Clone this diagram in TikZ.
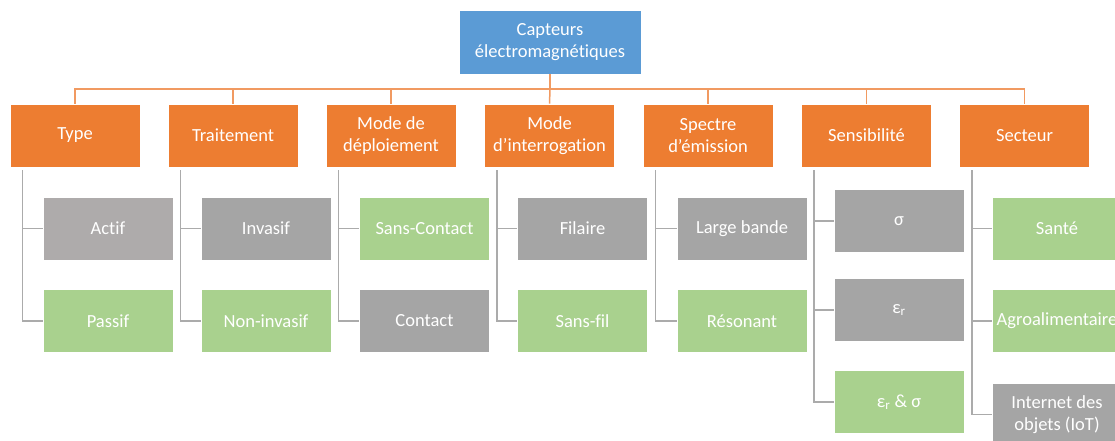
\documentclass[tikz,border=0pt]{standalone}
\usepackage{fontspec}
\setmainfont[Ligatures=NoCommon]{Carlito}
\usetikzlibrary{calc}
\definecolor{rootblue}{HTML}{5B9BD5}
\definecolor{catorange}{HTML}{ED7D31}
\definecolor{leafgray}{HTML}{A5A5A5}
\definecolor{lightgray}{HTML}{AEABAB}
\definecolor{leafgreen}{HTML}{A9D18E}
\definecolor{lineorange}{HTML}{F19A61}
\definecolor{linegray}{HTML}{ABABAB}
\newcommand{\stubshift}{13pt}
\tikzset{
	box/.style={minimum width=130pt, minimum height=63pt, inner sep=0pt,
		text=white, align=center, font=\fontsize{18.5}{21.5}\selectfont,
		draw=white, line width=0.6pt},
	catbox/.style={box, fill=catorange},
	graybox/.style={box, fill=leafgray},
	greenbox/.style={box, fill=leafgreen},
	busline/.style={draw=lineorange, line width=1.5pt},
	leafline/.style={draw=linegray, line width=1.5pt},
}

\begin{document}
\begin{tikzpicture}[x=1pt,y=-1pt]
	\useasboundingbox (0,0) rectangle (1115,441);
	\clip (0,0) rectangle (1115,441);

	% root and categories
	\node[box, fill=rootblue, minimum width=182pt, minimum height=64pt] (root) at (550,42) {Capteurs\\électromagnétiques};
	\coordinate (bus) at (550,89);
	\node[catbox] (type) at (75,135.5) {Type};
	\node[catbox] (traitement) at (233,135.5) {Traitement};
	\node[catbox] (deploiement) at (391,135.5) {Mode de\\déploiement};
	\node[catbox] (interrogation) at (549.5,135.5) {Mode\\d’interrogation};
	\node[catbox] (spectre) at (708,135.5) {Spectre\\d’émission};
	\node[catbox] (sensibilite) at (866.5,135.5) {Sensibilité};
	\node[catbox] (secteur) at (1024.5,135.5) {Secteur};

	% leaves
	\node[box, fill=lightgray] (actif) at (108,228.5) {Actif};
	\node[greenbox] (passif) at (108,321) {Passif};
	\node[graybox] (invasif) at (266,228.5) {Invasif};
	\node[greenbox] (noninvasif) at (266,321) {Non-invasif};
	\node[greenbox] (sanscontact) at (424.5,228.5) {Sans-Contact};
	\node[graybox] (contact) at (424.5,321) {Contact};
	\node[graybox] (filaire) at (582.5,228.5) {Filaire};
	\node[greenbox] (sansfil) at (582.5,321) {Sans-fil};
	\node[graybox] (largebande) at (742,228.5) {Large bande};
	\node[greenbox] (resonant) at (742,321) {Résonant};
	\node[graybox] (sigma) at (899,221) {σ};
	\node[graybox] (epsr) at (899,310) {ε\textsubscript{r}};
	\node[greenbox] (epssigma) at (899,402) {ε\textsubscript{r} \& σ};
	\node[greenbox] (sante) at (1057,228.5) {Santé};
	\node[greenbox] (agro) at (1057,321) {Agroalimentaire};
	\node[graybox] (iot) at (1057,414.5) {Internet des\\objets (IoT)};

	\draw[busline] (root.south) -- (bus);
	\draw[busline] (bus) -| (type.north);
	\draw[busline] (bus) -| (traitement.north);
	\draw[busline] (bus) -| (deploiement.north);
	\draw[busline] (bus) -- (interrogation.north);
	\draw[busline] (bus) -| (spectre.north);
	\draw[busline] (bus) -| (sensibilite.north);
	\draw[busline] (bus) -| (secteur.north);

	\draw[leafline] ([xshift=\stubshift,yshift=-3pt]type.south west) |- (actif.west);
	\draw[leafline] ([xshift=\stubshift,yshift=-3pt]type.south west) |- (passif.west);
	\draw[leafline] ([xshift=\stubshift,yshift=-3pt]traitement.south west) |- (invasif.west);
	\draw[leafline] ([xshift=\stubshift,yshift=-3pt]traitement.south west) |- (noninvasif.west);
	\draw[leafline] ([xshift=\stubshift,yshift=-3pt]deploiement.south west) |- (sanscontact.west);
	\draw[leafline] ([xshift=\stubshift,yshift=-3pt]deploiement.south west) |- (contact.west);
	\draw[leafline] ([xshift=\stubshift,yshift=-3pt]interrogation.south west) |- (filaire.west);
	\draw[leafline] ([xshift=\stubshift,yshift=-3pt]interrogation.south west) |- (sansfil.west);
	\draw[leafline] ([xshift=\stubshift,yshift=-3pt]spectre.south west) |- (largebande.west);
	\draw[leafline] ([xshift=\stubshift,yshift=-3pt]spectre.south west) |- (resonant.west);
	\draw[leafline] ([xshift=\stubshift,yshift=-3pt]sensibilite.south west) |- (sigma.west);
	\draw[leafline] ([xshift=\stubshift,yshift=-3pt]sensibilite.south west) |- (epsr.west);
	\draw[leafline] ([xshift=\stubshift,yshift=-3pt]sensibilite.south west) |- (epssigma.west);
	\draw[leafline] ([xshift=\stubshift,yshift=-3pt]secteur.south west) |- (sante.west);
	\draw[leafline] ([xshift=\stubshift,yshift=-3pt]secteur.south west) |- (agro.west);
	\draw[leafline] ([xshift=\stubshift,yshift=-3pt]secteur.south west) |- (iot.west);
\end{tikzpicture}
\end{document}
